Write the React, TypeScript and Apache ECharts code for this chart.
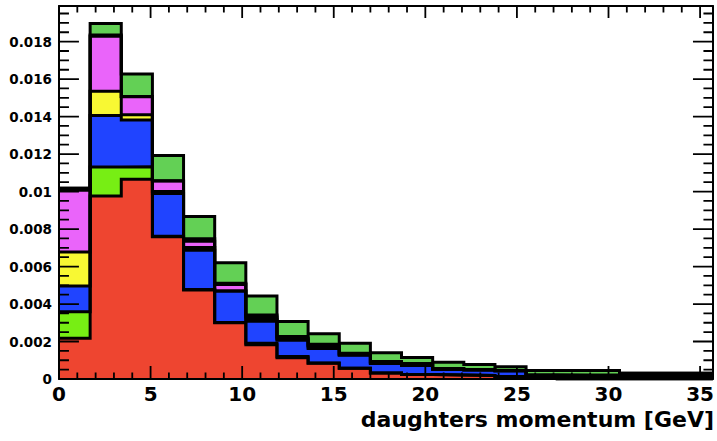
import React, { useEffect, useRef } from "react";
import * as echarts from "echarts";

// Bin low edges (GeV); last entry is the upper edge of the last bin
const BIN_EDGES = [0, 1.7, 3.4, 5.1, 6.8, 8.5, 10.2, 11.9, 13.6, 15.3, 17, 18.7, 20.4, 22.1, 23.8, 25.5, 27.2, 28.9, 30.6, 32.3, 34, 35.7];

// Stacked contributions, bottom to top
const RED = [0.00217, 0.00976, 0.01066, 0.00759, 0.00475, 0.003, 0.00183, 0.00113, 0.00084, 0.00057, 0.00032, 0.00024, 0.00021, 0.00019, 0.00014, 0.00012, 0, 0, 0, 0, 0];
const LIME = [0.00142, 0.00155, 0.00066, 0.00002, 0.00002, 0.00002, 0.00008, 0.00007, 0.00001, 0.00001, 0, 0, 0, 0, 0, 0, 0, 0, 0, 0, 0];
const BLUE = [0.00137, 0.00275, 0.0025, 0.00228, 0.0021, 0.00167, 0.00117, 0.00087, 0.00078, 0.00069, 0.00051, 0.00048, 0.0003, 0.00029, 0.0003, 0.00006, 0.00006, 0.00005, 0.00004, 0.00004, 0.00004];
const YELLOW = [0.00181, 0.00129, 0.00028, 0.00011, 0.00014, 0.00001, 0.00011, 0.00006, 0.00008, 0.00003, 0.00002, 0.00002, 0.00001, 0, 0, 0, 0, 0, 0, 0, 0];
const MAGENTA = [0.0033, 0.00293, 0.00096, 0.00057, 0.00034, 0.00034, 0.00012, 0.00006, 0.00008, 0.00002, 0.00003, 0.00003, 0.00002, 0.00001, 0, 0.00001, 0.00002, 0.00002, 0.00002, 0.00002, 0.00002];
const BLACK = [0.00011, 0.00007, 0.00001, 0.00001, 0.00013, 0.00007, 0.00011, 0.00008, 0.00007, 0.00006, 0.00005, 0.00006, 0.00002, 0.00001, 0.00002, 0.00004, 0.00014, 0.00015, 0.00025, 0.00025, 0.00025];
const GREEN = [0, 0.00061, 0.0012, 0.00135, 0.00119, 0.00109, 0.00101, 0.0008, 0.00055, 0.00053, 0.00047, 0.00032, 0.00034, 0.00028, 0.0002, 0.00023, 0.00023, 0.00023, 0, 0, 0];

const LAYERS = [RED, LIME, BLUE, YELLOW, MAGENTA, BLACK, GREEN];
const COLORS = ["#EE4530", "#77EE14", "#2044FF", "#F8F833", "#EA64FA", "#000000", "#63D055"];

// Axis ranges and tick marks
const X_MAX = 35.7;
const Y_MAX = 0.0199;
const X_MAJOR_TICKS = [0, 5, 10, 15, 20, 25, 30, 35];
const X_MINOR_TICKS = [1, 2, 3, 4, 6, 7, 8, 9, 11, 12, 13, 14, 16, 17, 18, 19, 21, 22, 23, 24, 26, 27, 28, 29, 31, 32, 33, 34];
const Y_MAJOR_TICKS = [0, 0.002, 0.004, 0.006, 0.008, 0.01, 0.012, 0.014, 0.016, 0.018];
const Y_MINOR_TICKS = [0.0005, 0.001, 0.0015, 0.0025, 0.003, 0.0035, 0.0045, 0.005, 0.0055, 0.0065, 0.007, 0.0075, 0.0085, 0.009, 0.0095, 0.0105, 0.011, 0.0115, 0.0125, 0.013, 0.0135, 0.0145, 0.015, 0.0155, 0.0165, 0.017, 0.0175, 0.0185, 0.019, 0.0195];
const X_TITLE = "daughters momentum [GeV]";

const FONT = '"DejaVu Sans", "Liberation Sans", sans-serif';

// Layout (pixels)
const WIDTH = 717;
const HEIGHT = 441;
const GRID = { left: 59, right: 2, top: 6, bottom: 62 };

export default function App() {
  const ref = useRef<HTMLDivElement>(null);

  useEffect(() => {
    if (!ref.current) return;
    const chart = echarts.init(ref.current, null, { renderer: "svg" });

    const nBins = RED.length;
    const running = new Array(nBins).fill(0);
    const cumLayers: number[][] = LAYERS.map((vals) => {
      for (let i = 0; i < nBins; i++) running[i] += vals[i];
      return running.slice();
    });
    const toStep = (cum: number[]) =>
      BIN_EDGES.map((e, i) => [e, cum[Math.min(i, nBins - 1)]]);

    const areaSeries: any[] = [];
    const lineSeries: any[] = [];
    for (let k = cumLayers.length - 1; k >= 0; k--) {
      areaSeries.push({
        type: "line",
        step: "end",
        data: toStep(cumLayers[k]),
        symbol: "none",
        silent: true,
        z: 2,
        lineStyle: { width: 0, opacity: 0 },
        areaStyle: { color: COLORS[k], opacity: 1 },
      });
      lineSeries.push({
        type: "line",
        step: "end",
        data: toStep(cumLayers[k]),
        symbol: "none",
        silent: true,
        z: 3,
        lineStyle: { color: "#000", width: 3, join: "miter", cap: "butt" },
      });
    }

    // Tick marks: short segments drawn by a line series, lengths converted from pixels to data units
    const plotW = WIDTH - GRID.left - GRID.right;
    const plotH = HEIGHT - GRID.top - GRID.bottom;
    const dx = (px: number) => (px * X_MAX) / plotW;
    const dy = (px: number) => (px * Y_MAX) / plotH;
    const tickData: any[] = [];
    const seg = (a: number[], b: number[]) => {
      tickData.push(a, b, [b[0], "-"]);
    };
    const addX = (vals: number[], lenB: number, lenT: number) =>
      vals.forEach((v) => {
        seg([v, 0], [v, dy(lenB)]);
        seg([v, Y_MAX], [v, Y_MAX - dy(lenT)]);
      });
    const addY = (vals: number[], lenL: number, lenR: number) =>
      vals.forEach((v) => {
        seg([0, v], [dx(lenL), v]);
        seg([X_MAX, v], [X_MAX - dx(lenR), v]);
      });
    addX(X_MAJOR_TICKS, 13, 12);
    addX(X_MINOR_TICKS, 6.5, 6.5);
    addY(Y_MAJOR_TICKS, 20, 20);
    addY(Y_MINOR_TICKS, 10, 9.5);

    const tickSeries = {
      type: "line",
      data: tickData,
      symbol: "none",
      silent: true,
      connectNulls: false,
      clip: false,
      z: 5,
      lineStyle: { color: "#000", width: 1.8, cap: "butt" },
    };

    const frameLine = () => ({ show: true, onZero: false, lineStyle: { color: "#000", width: 2 } });

    chart.setOption({
      animation: false,
      grid: { ...GRID, containLabel: false },
      xAxis: [
        {
          type: "value", min: 0, max: X_MAX, interval: 5, position: "bottom", z: 10,
          splitLine: { show: false }, axisTick: { show: false },
          axisLine: frameLine(),
          axisLabel: {
            show: true, margin: 5, color: "#000", fontFamily: FONT, fontWeight: "bold", fontSize: 20,
            showMaxLabel: false, formatter: (v: number) => String(Math.round(v)),
          },
        },
        {
          type: "value", min: 0, max: X_MAX, interval: 5, position: "top", z: 10,
          splitLine: { show: false }, axisTick: { show: false }, axisLabel: { show: false },
          axisLine: frameLine(),
        },
      ],
      yAxis: [
        {
          type: "value", min: 0, max: Y_MAX, interval: 0.002, position: "left", z: 10,
          splitLine: { show: false }, axisTick: { show: false },
          axisLine: frameLine(),
          axisLabel: {
            show: true, margin: 7, color: "#000", fontFamily: FONT, fontWeight: "bold", fontSize: 13.5,
            showMaxLabel: false,
            formatter: (v: number) => (v === 0 ? "0" : String(parseFloat(v.toFixed(4)))),
          },
        },
        {
          type: "value", min: 0, max: Y_MAX, interval: 0.002, position: "right", z: 10,
          splitLine: { show: false }, axisTick: { show: false }, axisLabel: { show: false },
          axisLine: frameLine(),
        },
      ],
      graphic: [
        {
          type: "text",
          x: 714,
          y: 419,
          z: 20,
          style: {
            text: X_TITLE,
            align: "right",
            verticalAlign: "middle",
            fill: "#000",
            font: `bold 22px ${FONT}`,
          },
        },
      ],
      series: [...areaSeries, ...lineSeries, tickSeries],
    });

    return () => chart.dispose();
  }, []);

  return (
    <div
      ref={ref}
      style={{ position: "fixed", left: 0, top: 0, width: WIDTH, height: HEIGHT, background: "#fff" }}
    />
  );
}
